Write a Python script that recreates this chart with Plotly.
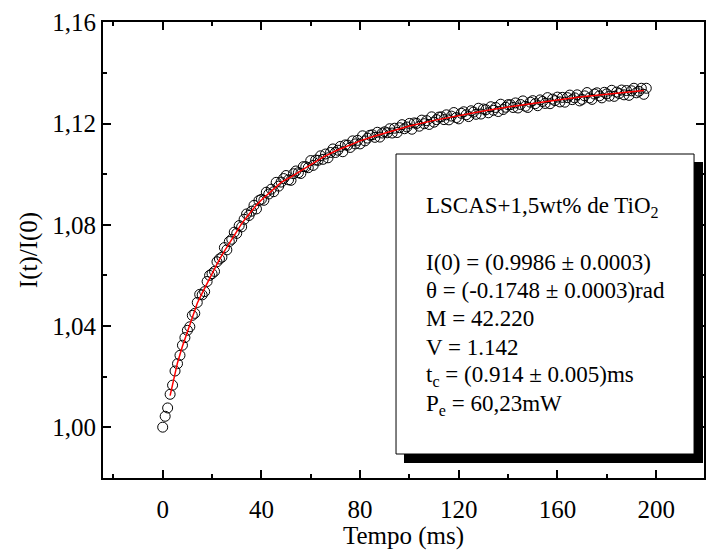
import plotly.graph_objects as go

# ---- data ----
time_ms = list(range(0, 197))
ratio = [
    1.0000, 1.0043, 1.0076, 1.0130, 1.0166, 1.0222, 1.0251, 1.0284, 1.0324, 1.0354,
    1.0383, 1.0397, 1.0442, 1.0450, 1.0493, 1.0525, 1.0523, 1.0536, 1.0576, 1.0600,
    1.0607, 1.0616, 1.0654, 1.0665, 1.0672, 1.0710, 1.0701, 1.0734, 1.0743, 1.0771,
    1.0766, 1.0797, 1.0792, 1.0822, 1.0843, 1.0837, 1.0854, 1.0877, 1.0863, 1.0896,
    1.0901, 1.0897, 1.0929, 1.0922, 1.0941, 1.0931, 1.0968, 1.0953, 1.0969, 1.0983,
    1.0995, 1.0978, 1.0976, 1.1002, 1.1013, 1.1006, 1.1003, 1.1030, 1.1030, 1.1026,
    1.1054, 1.1035, 1.1056, 1.1055, 1.1073, 1.1059, 1.1080, 1.1065, 1.1086, 1.1100,
    1.1086, 1.1095, 1.1110, 1.1089, 1.1116, 1.1115, 1.1106, 1.1132, 1.1120, 1.1134,
    1.1120, 1.1152, 1.1132, 1.1143, 1.1154, 1.1156, 1.1146, 1.1166, 1.1147, 1.1163,
    1.1168, 1.1164, 1.1180, 1.1163, 1.1182, 1.1165, 1.1184, 1.1196, 1.1180, 1.1187,
    1.1201, 1.1178, 1.1203, 1.1201, 1.1190, 1.1214, 1.1200, 1.1212, 1.1197, 1.1227,
    1.1206, 1.1216, 1.1226, 1.1227, 1.1216, 1.1235, 1.1215, 1.1230, 1.1244, 1.1224,
    1.1219, 1.1241, 1.1247, 1.1235, 1.1228, 1.1251, 1.1246, 1.1237, 1.1261, 1.1238,
    1.1258, 1.1255, 1.1243, 1.1267, 1.1253, 1.1264, 1.1248, 1.1277, 1.1256, 1.1265,
    1.1275, 1.1275, 1.1264, 1.1282, 1.1262, 1.1276, 1.1290, 1.1269, 1.1264, 1.1285,
    1.1291, 1.1279, 1.1271, 1.1294, 1.1288, 1.1280, 1.1303, 1.1279, 1.1297, 1.1291,
    1.1305, 1.1286, 1.1304, 1.1285, 1.1303, 1.1313, 1.1295, 1.1302, 1.1314, 1.1290,
    1.1296, 1.1310, 1.1323, 1.1302, 1.1296, 1.1317, 1.1322, 1.1310, 1.1302, 1.1324,
    1.1318, 1.1309, 1.1332, 1.1308, 1.1325, 1.1319, 1.1333, 1.1314, 1.1331, 1.1312,
    1.1330, 1.1340, 1.1322, 1.1328, 1.1340, 1.1316, 1.1340,
]

fit_t = [3, 4, 5, 6, 8, 10, 12, 14, 16, 18, 20, 22, 24, 26, 28, 30, 32, 34, 36, 38,
         40, 44, 48, 52, 56, 60, 65, 70, 75, 80, 85, 90, 95, 100, 110, 120, 130,
         140, 150, 160, 170, 180, 190, 195]
fit_y = [1.0125, 1.0170, 1.0215, 1.0255, 1.0320, 1.0375, 1.0430, 1.0490, 1.0530,
         1.0570, 1.0610, 1.0645, 1.0680, 1.0712, 1.0745, 1.0775, 1.0805, 1.0830,
         1.0855, 1.0878, 1.0898, 1.0935, 1.0968, 1.0990, 1.1015, 1.1040, 1.1068,
         1.1092, 1.1112, 1.1132, 1.1148, 1.1163, 1.1178, 1.1191, 1.1213, 1.1233,
         1.1250, 1.1266, 1.1281, 1.1294, 1.1306, 1.1316, 1.1326, 1.1331]

x_ticks = [0, 40, 80, 120, 160, 200]
y_ticks = [1.00, 1.04, 1.08, 1.12, 1.16]

box_lines = [
    "LSCAS+1,5wt% de TiO<sub>2</sub>",
    "I(0) = (0.9986 ± 0.0003)",
    "θ = (-0.1748 ± 0.0003)rad",
    "M = 42.220",
    "V = 1.142",
    "t<sub>c</sub> = (0.914 ± 0.005)ms",
    "P<sub>e</sub> = 60,23mW",
]
box_line_px = [207, 262, 290, 318, 347, 376, 405]

# ---- geometry ----
W, H = 708, 550
L, R, T, B = 103, 2, 22, 72
pw, ph = W - L - R, H - T - B


def px(xp):
    return (xp - L) / pw


def py(yp):
    return (H - B - yp) / ph


FONT = "Liberation Serif, Times New Roman, serif"

fig = go.Figure()
fig.add_trace(go.Scatter(
    x=time_ms, y=ratio, mode="markers",
    marker=dict(symbol="circle-open", size=10, color="black",
                line=dict(width=1, color="black")),
    showlegend=False, hoverinfo="skip"))
fig.add_trace(go.Scatter(
    x=fit_t, y=fit_y, mode="lines", line=dict(color="red", width=1.5),
    showlegend=False, hoverinfo="skip"))

# legend box with shadow
fig.add_shape(type="rect", xref="paper", yref="paper",
              x0=px(405), x1=px(705), y0=py(463), y1=py(162),
              fillcolor="black", line=dict(width=0), layer="above")
fig.add_shape(type="rect", xref="paper", yref="paper",
              x0=px(397), x1=px(696), y0=py(454), y1=py(154),
              fillcolor="white", line=dict(width=1, color="black"), layer="above")

for txt, yy in zip(box_lines, box_line_px):
    fig.add_annotation(text=txt, xref="paper", yref="paper",
                       x=px(425), y=py(yy), xanchor="left", yanchor="middle",
                       showarrow=False, font=dict(family=FONT, size=23, color="black"))

axis_common = dict(
    showgrid=False, zeroline=False, showline=True, linecolor="black",
    linewidth=2, mirror="allticks", ticks="inside", ticklen=8, tickwidth=1.5,
    tickcolor="black", tickfont=dict(family=FONT, size=25, color="black"),
)

fig.update_xaxes(
    range=[-24.2, 219.4], tickvals=x_ticks, ticktext=[str(v) for v in x_ticks],
    ticklabelstandoff=8,
    minor=dict(dtick=20, tick0=0, ticks="inside", ticklen=4, tickwidth=1.5,
               tickcolor="black"),
    title=dict(text="Tempo (ms)", font=dict(family=FONT, size=25, color="black"),
               standoff=2),
    **axis_common)
fig.update_yaxes(
    range=[0.9799, 1.1602], tickvals=y_ticks,
    ticktext=[f"{v:.2f}".replace(".", ",") for v in y_ticks],
    minor=dict(dtick=0.02, tick0=1.0, ticks="inside", ticklen=4, tickwidth=1.5,
               tickcolor="black"),
    title=dict(text="I(t)/I(0)", font=dict(family=FONT, size=25, color="black"),
               standoff=8),
    **axis_common)

fig.update_layout(
    width=W, height=H, margin=dict(l=L, r=R, t=T, b=B),
    paper_bgcolor="white", plot_bgcolor="white",
    font=dict(family=FONT, color="black"),
)

fig.write_html("out.html", config={"displayModeBar": False},
               post_script="document.body.style.margin='0px';"
                           "document.body.style.overflow='hidden';")
